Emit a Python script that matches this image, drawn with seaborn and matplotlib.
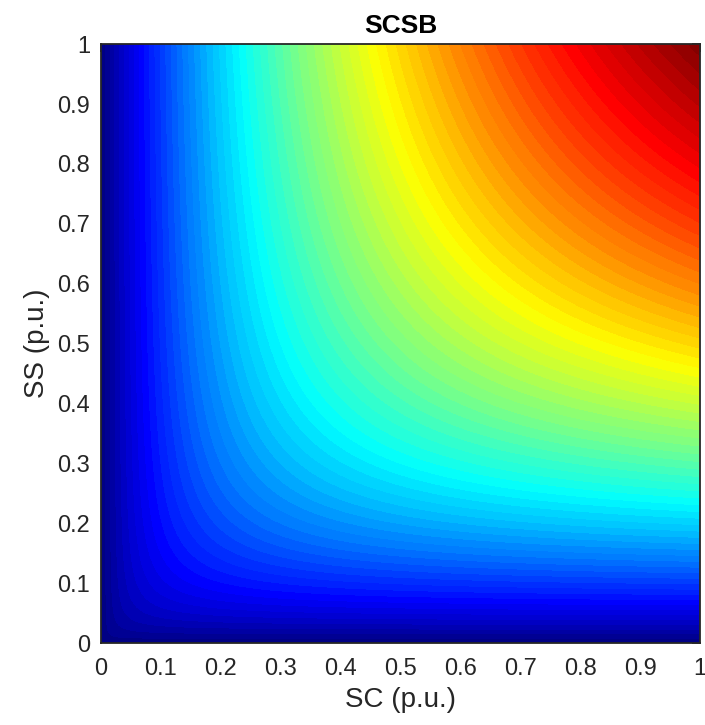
import numpy as np
import matplotlib
matplotlib.use("Agg")
import matplotlib.pyplot as plt
from matplotlib.colors import ListedColormap
import seaborn as sns

# grid of SC / SS values (p.u.)
sc = np.linspace(0, 1, 301)
ss = np.linspace(0, 1, 301)
SC, SS = np.meshgrid(sc, ss)
# SCSB index: harmonic-type combination of SC and SS
with np.errstate(invalid="ignore", divide="ignore"):
    scsb = np.where(SC + SS > 0, 2 * SC * SS / (SC + SS), 0.0)

ticks = np.round(np.arange(0, 1.01, 0.1), 1)
tick_labels = ["0", "0.1", "0.2", "0.3", "0.4", "0.5", "0.6", "0.7", "0.8", "0.9", "1"]


def matlab_jet(n=256):
    # same piecewise-linear shape as MATLAB's jet
    t = np.linspace(0, 1, n)
    r = np.clip(1.5 - np.abs(4 * t - 3), 0, 1)
    g = np.clip(1.5 - np.abs(4 * t - 2), 0, 1)
    b = np.clip(1.5 - np.abs(4 * t - 1), 0, 1)
    return ListedColormap(np.column_stack([r, g, b]))


def main():
    sns.set_theme(style="white")
    plt.rcParams["font.family"] = ["Liberation Sans", "DejaVu Sans"]
    fig = plt.figure(figsize=(7.05, 7.25), dpi=100)
    ax = fig.add_axes([0.1433, 0.113, 0.8497, 0.826])
    ax.contourf(SC, SS, scsb, levels=80, cmap=matlab_jet())
    ax.set_xlim(0, 1)
    ax.set_ylim(0, 1)
    ax.set_xticks(ticks)
    ax.set_xticklabels(tick_labels)
    ax.set_yticks(ticks)
    ax.set_yticklabels(tick_labels)
    ax.tick_params(direction="in", top=True, right=True, length=6, width=1.2,
                   labelsize=17, colors="#262626")
    ax.tick_params(axis="x", pad=11)
    ax.tick_params(axis="y", pad=8)
    for sp in ax.spines.values():
        sp.set_linewidth(1.3)
        sp.set_color("#262626")
    ax.set_xlabel("SC (p.u.)", fontsize=20, color="#262626", labelpad=5)
    ax.set_ylabel("SS (p.u.)", fontsize=20, color="#262626", labelpad=5)
    ax.set_title("SCSB", fontsize=19, fontweight="bold", color="black", pad=8)
    fig.savefig("out.png", dpi=100)


if __name__ == "__main__":
    main()
